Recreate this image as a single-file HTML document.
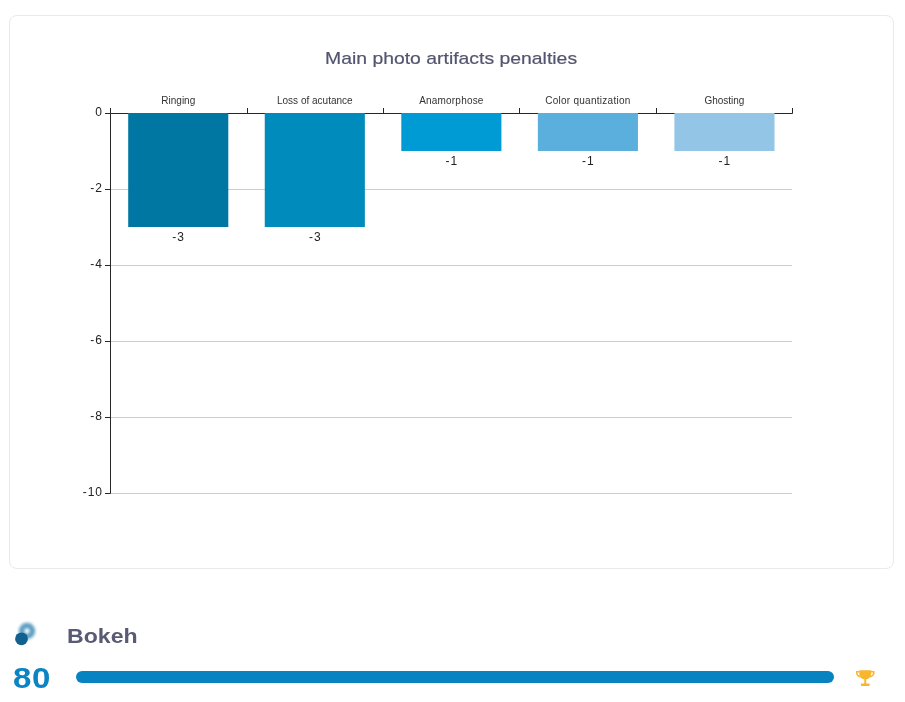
<!DOCTYPE html>
<html>
<head>
<meta charset="utf-8">
<style>
html,body{margin:0;padding:0;background:#fff;}
body{width:905px;height:702px;position:relative;overflow:hidden;font-family:"Liberation Sans",sans-serif;}
.card{position:absolute;left:9px;top:15px;width:883px;height:552px;border:1px solid #e9e9e9;border-radius:8px;box-sizing:content-box;}
svg{position:absolute;left:0;top:0;will-change:transform;}
.title{position:absolute;left:325px;top:49.3px;font-size:17px;color:#52556f;white-space:nowrap;transform-origin:0 0;transform:scaleX(1.14);will-change:transform;-webkit-text-stroke:0.2px #52556f;}
.bokeh{position:absolute;left:67px;top:624px;font-size:21px;font-weight:bold;color:#595a73;white-space:nowrap;transform-origin:0 0;transform:scaleX(1.1);will-change:transform;}
.score{position:absolute;left:13px;top:661px;font-size:30px;font-weight:bold;color:#0a84c3;white-space:nowrap;transform-origin:0 0;transform:scaleX(1.1);letter-spacing:0.5px;will-change:transform;}
.bar{position:absolute;left:76px;top:671px;width:758px;height:12px;border-radius:6px;background:#0883c1;}
</style>
</head>
<body>
<div class="card"></div>
<div class="title">Main photo artifacts penalties</div>
<svg width="905" height="702" viewBox="0 0 905 702">
  <g fill="none" stroke="#cccccc" stroke-width="1">
    <path d="M110 189.5H792"/>
    <path d="M110 265.5H792"/>
    <path d="M110 341.5H792"/>
    <path d="M110 417.5H792"/>
    <path d="M110 493.5H792"/>
  </g>
  <g fill="none" stroke="#262626" stroke-width="1">
    <path d="M110.5 108V113.5H792.5V108"/>
    <path d="M247.5 108V113M383.5 108V113M519.5 108V113M656.5 108V113"/>
    <path d="M105 113.5H110.5V493.5H105"/>
    <path d="M105 189.5H110M105 265.5H110M105 341.5H110M105 417.5H110"/>
  </g>
  <g>
    <rect x="128.20" y="113" width="100.1" height="114" fill="#0077a2"/>
    <rect x="264.75" y="113" width="100.1" height="114" fill="#008bbd"/>
    <rect x="401.30" y="113" width="100.1" height="38" fill="#009bd5"/>
    <rect x="537.85" y="113" width="100.1" height="38" fill="#5aafdd"/>
    <rect x="674.40" y="113" width="100.1" height="38" fill="#93c5e6"/>
    </g>
  <g font-family="Liberation Sans" font-size="10" fill="#333" text-anchor="middle">
    <text x="178.3" y="103.5">Ringing</text>
    <text x="314.8" y="103.5">Loss of acutance</text>
    <text x="451.4" y="103.5" letter-spacing="0.2">Anamorphose</text>
    <text x="587.9" y="103.5" letter-spacing="0.27">Color quantization</text>
    <text x="724.4" y="103.5">Ghosting</text>
  </g>
  <g font-family="Liberation Sans" font-size="12" fill="#222" text-anchor="middle" letter-spacing="1">
    <text x="178.7" y="241">-3</text>
    <text x="315.3" y="241">-3</text>
    <text x="451.8" y="165">-1</text>
    <text x="588.4" y="165">-1</text>
    <text x="724.9" y="165">-1</text>
  </g>
  <g font-family="Liberation Sans" font-size="12" fill="#222" text-anchor="end" letter-spacing="1">
    <text x="103" y="116">0</text>
    <text x="103" y="192">-2</text>
    <text x="103" y="268">-4</text>
    <text x="103" y="344">-6</text>
    <text x="103" y="420">-8</text>
    <text x="103" y="496">-10</text>
  </g>
  <!-- bokeh icon -->
  <defs>
    <filter id="bl" x="-50%" y="-50%" width="200%" height="200%"><feGaussianBlur stdDeviation="1.7"/></filter>
  </defs>
  <circle cx="27" cy="631" r="5.4" fill="none" stroke="#3f8cb8" stroke-width="5.5" filter="url(#bl)" opacity="0.85"/>
  <circle cx="21.5" cy="638.8" r="6.4" fill="#116190"/>
  <!-- trophy -->
  <g fill="#f8b62f">
    <path d="M859.3 670.3H871.2V673.6C871.2 677.1 868.6 679.4 865.25 679.4C861.9 679.4 859.3 677.1 859.3 673.6Z"/>
    <path d="M859.5 671H856.6C856.1 671 855.8 671.4 855.8 672C855.8 674.9 857.7 677.2 860.6 677.6L860.2 676.1C858.7 675.6 857.5 674.3 857.4 672.6H859.5Z"/>
    <path d="M871 671H873.9C874.4 671 874.7 671.4 874.7 672C874.7 674.9 872.8 677.2 869.9 677.6L870.3 676.1C871.8 675.6 873 674.3 873.1 672.6H871Z"/>
    <rect x="864.3" y="679" width="1.9" height="5"/>
    <rect x="860.8" y="683.6" width="8.9" height="2.3" rx="0.8"/>
  </g>
</svg>
<div class="bokeh">Bokeh</div>
<div class="score">80</div>
<div class="bar"></div>
</body>
</html>
